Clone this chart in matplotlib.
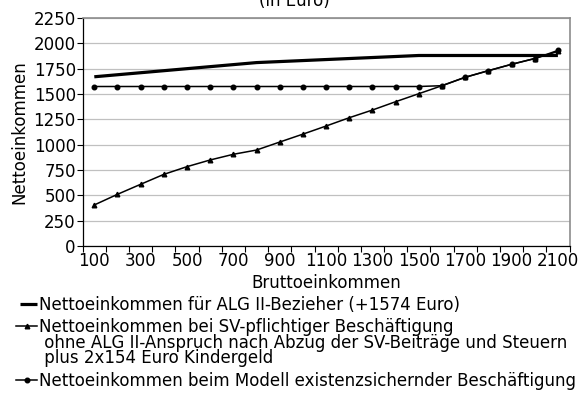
import numpy as np
import matplotlib
matplotlib.use('Agg')
import matplotlib.pyplot as plt
from matplotlib.lines import Line2D

plt.rcParams['font.family'] = ['DejaVu Sans']

brutto = [100, 200, 300, 400, 500, 600, 700, 800, 900, 1000, 1100,
          1200, 1300, 1400, 1500, 1600, 1700, 1800, 1900, 2000, 2100]
alg2 = [1670, 1690, 1710, 1730, 1750, 1770, 1790, 1810, 1820, 1830, 1840,
        1850, 1860, 1870, 1880, 1880, 1880, 1880, 1880, 1880, 1880]
sv = [405, 510, 609, 707, 783, 849, 905, 947, 1026, 1104, 1184,
      1266, 1342, 1424, 1503, 1582, 1665, 1730, 1793, 1850, 1920]
modell = [1574, 1574, 1574, 1574, 1574, 1574, 1574, 1574, 1574, 1574, 1574,
          1574, 1574, 1574, 1574, 1582, 1665, 1730, 1793, 1850, 1930]

labels = ['Nettoeinkommen für ALG II-Bezieher (+1574 Euro)',
          'Nettoeinkommen bei SV-pflichtiger Beschäftigung\n'
          ' ohne ALG II-Anspruch nach Abzug der SV-Beiträge und Steuern\n'
          ' plus 2x154 Euro Kindergeld',
          'Nettoeinkommen beim Modell existenzsichernder Beschäftigung']

W, H = 582, 409
fig = plt.figure(figsize=(W / 100, H / 100), dpi=100)
ax = fig.add_axes([82.7 / W, 1 - 246 / H, (569.5 - 82.7) / W, (246 - 18) / H])

x = np.arange(len(brutto))
l1, = ax.plot(x, alg2, color='black', lw=2.3, solid_capstyle='butt')
l3, = ax.plot(x, modell, color='black', lw=1.1, marker='o', ms=3.3)
l2, = ax.plot(x, sv, color='black', lw=1.1, marker='^', ms=3.3)

ax.set_xlim(-0.5, len(brutto) - 0.5)
ax.set_ylim(0, 2250)
ax.set_yticks(np.arange(0, 2251, 250))
ax.set_xticks(x[::2])
ax.set_xticklabels([str(b) for b in brutto[::2]])
ax.set_xticks(np.arange(-0.5, len(brutto), 1), minor=True)
ax.tick_params(axis='x', which='major', length=0, labelsize=12, pad=4)
ax.tick_params(axis='x', which='minor', length=4, width=0.8)
ax.tick_params(axis='y', length=4, width=0.8, labelsize=12, pad=1)
ax.yaxis.grid(True, color='#c0c0c0', lw=0.9)
ax.set_axisbelow(True)
for s in ['top', 'right']:
    ax.spines[s].set_color('#8c8c8c')
    ax.spines[s].set_linewidth(1.2)
for s in ['left', 'bottom']:
    ax.spines[s].set_linewidth(0.9)

ax.set_xlabel('Bruttoeinkommen', fontsize=12, labelpad=3)
ax.set_ylabel('Nettoeinkommen', fontsize=12, labelpad=4)

fig.text(294 / W, 1 - 1 / H, '(in Euro)', ha='center', va='center', fontsize=12)

# legend drawn below the plot, rows as in the original
rows = [(304, l1, labels[0]), (326, l2, labels[1]), (380, l3, labels[2])]
for ypix, h, txt in rows:
    yf = 1 - ypix / H
    if h is l1:
        fig.add_artist(Line2D([20 / W, 37 / W], [yf, yf], transform=fig.transFigure,
                              color='black', lw=2.3, solid_capstyle='butt'))
    else:
        fig.add_artist(Line2D([16 / W, 37 / W], [yf, yf], transform=fig.transFigure,
                              color='black', lw=1.1))
        fig.add_artist(Line2D([27 / W], [yf], transform=fig.transFigure, color='black',
                              marker=h.get_marker(), ms=3.3, lw=0))
    fig.text(39 / W, yf + 7.5 / H, txt, ha='left', va='top', fontsize=12,
             linespacing=0.82)

fig.savefig('out.png', dpi=100)
